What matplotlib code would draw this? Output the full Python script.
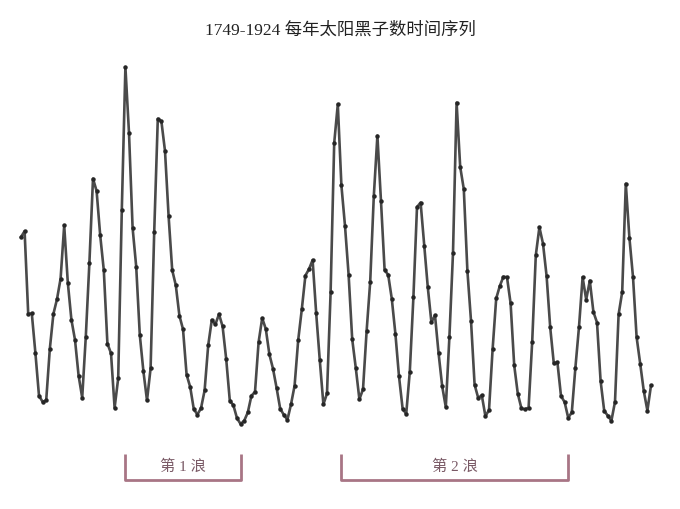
import matplotlib
matplotlib.use("Agg")
import matplotlib.pyplot as plt

# yearly sunspot numbers 1749-1924
years = list(range(1749, 1925))
sunspots = [
    80.9, 83.4, 47.7, 47.8, 30.7, 12.2, 9.6, 10.2, 32.4, 47.6,
    54.0, 62.9, 85.9, 61.2, 45.1, 36.4, 20.9, 11.4, 37.8, 69.8,
    106.1, 100.8, 81.6, 66.5, 34.8, 30.6, 7.0, 19.8, 92.5, 154.4,
    125.9, 84.8, 68.1, 38.5, 22.8, 10.2, 24.1, 82.9, 132.0, 130.9,
    118.1, 89.9, 66.6, 60.0, 46.9, 41.0, 21.3, 16.0, 6.4, 4.1,
    6.8, 14.5, 34.0, 45.0, 43.1, 47.5, 42.2, 28.1, 10.1, 8.1,
    2.5, 0.0, 1.4, 5.0, 12.2, 13.9, 35.4, 45.8, 41.1, 30.1,
    23.9, 15.6, 6.6, 4.0, 1.8, 8.5, 16.6, 36.3, 49.6, 64.2,
    67.0, 70.9, 47.8, 27.5, 8.5, 13.2, 56.9, 121.5, 138.3, 103.2,
    85.7, 64.6, 36.7, 24.2, 10.7, 15.0, 40.1, 61.5, 98.5, 124.7,
    96.3, 66.6, 64.5, 54.1, 39.0, 20.6, 6.7, 4.3, 22.7, 54.8,
    93.8, 95.8, 77.2, 59.1, 44.0, 47.0, 30.5, 16.3, 7.3, 37.6,
    74.0, 139.0, 111.2, 101.6, 66.2, 44.7, 17.0, 11.3, 12.4, 3.4,
    6.0, 32.3, 54.3, 59.7, 63.7, 63.5, 52.2, 25.4, 13.1, 6.8,
    6.3, 7.1, 35.6, 73.0, 85.1, 78.0, 64.0, 41.8, 26.2, 26.7,
    12.1, 9.5, 2.7, 5.0, 24.4, 42.0, 63.5, 53.8, 62.0, 48.5,
    43.9, 18.6, 5.7, 3.6, 1.4, 9.6, 47.4, 57.1, 103.9, 80.6,
    63.6, 37.6, 26.1, 14.2, 5.8, 16.7,
]

title = "1749-1924 每年太阳黑子数时间序列"
wave_labels = ["第 1 浪", "第 2 浪"]
wave_start = [1778, 1838]
wave_end = [1810, 1901]

fig = plt.figure(figsize=(6.8, 5.1), dpi=100)
ax = fig.add_axes((0, 0, 1, 1))
ax.axis("off")

ax.plot(years, sunspots, color="#4a4a4a", lw=1.9, marker="o", ms=2.2,
        mfc="#262626", mec="#262626")

# map pixels: 1749 -> x=21, 3.6 px/year; y=0 -> 425 px, 2.312 px/unit
ax.set_xlim(1749 - 21 / 3.6, 1749 + (680 - 21) / 3.6)
ax.set_ylim(-(510 - 425) / 2.312, 425 / 2.312)

bracket_col = "#a87585"
y_top = -(455 - 425) / 2.312
y_bot = -(481 - 425) / 2.312
for lab, x0, x1 in zip(wave_labels, wave_start, wave_end):
    ax.plot([x0, x0, x1, x1], [y_top, y_bot, y_bot, y_top],
            color=bracket_col, lw=2, solid_capstyle="butt")
    ax.text((x0 + x1) / 2, -(467 - 425) / 2.312, lab, ha="center", va="center",
            fontsize=11, color="#7a5a66",
            family=["Liberation Serif", "Noto Sans CJK SC"])

fig.text(0.5, 1 - 30 / 510, title, ha="center", va="center", fontsize=12.5,
         color="#222222", family=["Liberation Serif", "Noto Sans CJK SC"])

fig.savefig("out.png", dpi=100, facecolor="white")
